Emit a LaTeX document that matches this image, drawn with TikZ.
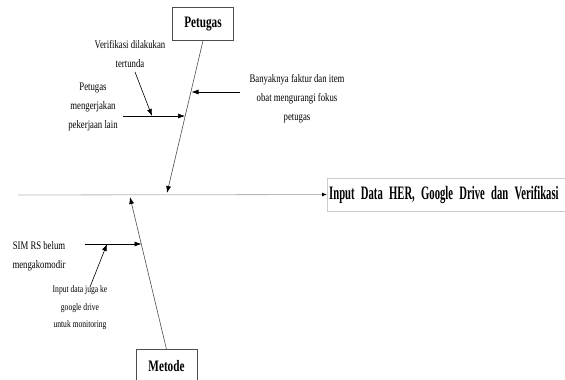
\documentclass[tikz,border=0pt]{standalone}
\usepackage{fontspec}
\setmainfont{Liberation Serif}
\newfontfamily\causefont[FakeStretch=0.76]{Liberation Serif}
\newfontfamily\headfont[FakeStretch=0.7]{Liberation Serif}
\newfontfamily\effectfont[FakeStretch=0.56]{Liberation Serif}
\usetikzlibrary{arrows.meta}

\begin{document}
\begin{tikzpicture}[x=1pt,y=-1pt,
  cause/.style={font=\causefont\fontsize{11.5}{19}\selectfont, align=center, inner sep=0pt},
  smallcause/.style={font=\causefont\fontsize{10}{17.5}\selectfont, align=center, inner sep=0pt},
  head/.style={draw=black!70, font=\headfont\bfseries\fontsize{16}{16}\selectfont, minimum width=61pt, minimum height=33pt, inner sep=0pt},
  effect/.style={draw=gray!40, anchor=west, font=\effectfont\bfseries\fontsize{19}{19}\selectfont, minimum height=33pt, text width=300pt, align=left, inner xsep=2pt},
  spine/.style={draw=gray!55, line width=0.8pt, -{Latex[length=5pt,width=4pt,color=black]}},
  bone/.style={draw=black!70, line width=0.6pt, -{Latex[length=7pt,width=5pt,color=black]}},
  sub/.style={draw=black, line width=0.6pt, -{Latex[length=7pt,width=5pt]}}]
\useasboundingbox (0,0) rectangle (565,380);

% kepala dan kategori
\node [effect] (hasil) at (327,194.5) {Input Data HER, Google Drive dan Verifikasi};
\node [head] (petugas) at (203,24) {Petugas};
\node [head] (metode) at (166.5,366) {Metode};

% tulang utama
\coordinate (tail) at (18,195);
\coordinate (sp1) at (167,193);
\coordinate (sp2) at (130,197);
\draw [spine] (tail) -- (hasil.west);
\draw [bone] (petugas.south) -- (sp1);
\draw [bone] (metode.north) -- (sp2);

% penyebab petugas
\node [cause] (lain) at (93,107) {Petugas\\mengerjakan\\pekerjaan lain};
\node [cause] (tunda) at (130,54) {Verifikasi dilakukan\\tertunda};
\node [cause] (faktur) at (297,99) {Banyaknya faktur dan item\\obat mengurangi fokus\\petugas};
\coordinate (a1) at (123,116);
\coordinate (b1) at (185,116);
\coordinate (c1) at (152,116);
\coordinate (a2) at (135,72);
\coordinate (a3) at (240,92);
\coordinate (b2) at (191.5,92);
\draw [sub] (a1) -- (b1);
\draw [sub] (a2) -- (c1);
\draw [sub] (a3) -- (b2);

% penyebab metode
\node [cause] (simrs) at (39,256) {SIM RS belum\\mengakomodir};
\node [smallcause] (gdrive) at (80,308) {Input data juga ke\\google drive\\untuk monitoring};
\coordinate (a4) at (85,244);
\coordinate (b3) at (141.5,244);
\coordinate (c2) at (107,244);
\coordinate (a5) at (90,287);
\draw [sub] (a4) -- (b3);
\draw [sub] (a5) -- (c2);
\end{tikzpicture}
\end{document}
